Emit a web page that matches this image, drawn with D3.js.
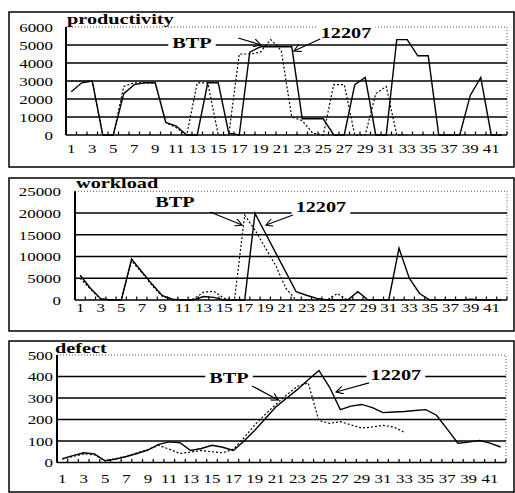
<!DOCTYPE html>
<html><head><meta charset="utf-8">
<script src="https://cdn.jsdelivr.net/npm/d3@7"></script>
<style>body{margin:0;background:#fff}svg{display:block}</style>
</head><body>
<svg id="c" width="515" height="493"></svg>
<script>
// ---------- DATA ----------
const categories = [1,2,3,4,5,6,7,8,9,10,11,12,13,14,15,16,17,18,19,20,21,22,23,24,25,26,27,28,29,30,31,32,33,34,35,36,37,38,39,40,41,42];
const xTickLabels = [1,3,5,7,9,11,13,15,17,19,21,23,25,27,29,31,33,35,37,39,41];

const productivityTicks = [0,1000,2000,3000,4000,5000,6000];
const productivity12207 = [2400,2900,3000,0,0,2300,2800,2900,2900,700,500,0,0,2900,2900,100,0,4600,4900,4900,4900,4900,900,900,900,0,0,2800,3200,0,0,5300,5300,4400,4400,0,0,0,2200,3200,0,0];
const productivityBTP   = [3000,3000,3000,0,0,2700,2900,2900,2900,700,400,0,2900,2900,0,0,4500,4500,4600,5300,4700,1000,800,100,0,2800,2800,0,0,2300,2700,0,0];

const workloadTicks = [0,5000,10000,15000,20000,25000];
const workload12207 = [5700,2700,300,0,0,9400,6500,3600,1000,200,0,0,800,600,0,0,0,19900,15400,10900,6400,1900,1100,380,0,0,0,1900,0,0,0,11900,5000,1500,0,0,0,0,200,0,0,0];
const workloadBTP   = [5000,2500,200,0,0,9000,6300,3300,800,0,0,200,1800,2000,400,0,19500,16100,12000,8000,2700,0,0,0,0,1500,0,0,0,0,0,0,0];

const defectTicks = [0,100,200,300,400,500];
const defect12207 = [18,32,45,40,8,16,28,42,58,84,96,92,56,65,80,71,56,100,150,205,260,300,340,385,428,350,246,262,270,255,232,235,237,242,246,220,155,90,95,103,90,72];
const defectBTP   = [16,28,40,36,8,18,30,45,60,80,62,42,48,56,50,45,62,115,175,225,272,315,355,370,195,182,190,175,160,165,173,165,140];

// ---------- LAYOUT ----------
const panels = [
  {title:"productivity", ticks:productivityTicks, s12207:productivity12207, sBTP:productivityBTP,
   frame:[9,12,505,155], left:66, right:507, top:27, bottom:135, yLabelX:53, xLabelY:153, titleX:67, titleY:24,
   ann:[{t:"BTP", c:12.5, v:5111, a:[16.9,5390,19.07,5000]},
        {t:"12207", c:27.17, v:5667, a:[24.7,5333,22.2,4667]}]},
  {title:"workload", ticks:workloadTicks, s12207:workload12207, sBTP:workloadBTP,
   frame:[9,178,505,153], left:75, right:507, top:191.25, bottom:300, yLabelX:61, xLabelY:312, titleX:76, titleY:188,
   ann:[{t:"BTP", c:10.22, v:22529, a:[13.63,20230,16.74,17241]},
        {t:"12207", c:24.41, v:21379, a:[21.69,19540,19.07,17241]}]},
  {title:"defect", ticks:defectTicks, s12207:defect12207, sBTP:defectBTP,
   frame:[9,341,505,151], left:57, right:506, top:355, bottom:462.5, yLabelX:53, xLabelY:483, titleX:55, titleY:353,
   ann:[{t:"BTP", c:16.59, v:393, a:[18.74,356,21.2,291]},
        {t:"12207", c:32.2, v:407, a:[29.69,370,26.6,328]}]}
];

const FONT = "'Liberation Serif','Times New Roman',serif";
const svg = d3.select("#c");

svg.append("defs").append("marker")
  .attr("id","arr").attr("viewBox","0 0 10 10").attr("refX",9).attr("refY",5)
  .attr("markerWidth",8).attr("markerHeight",8).attr("markerUnits","userSpaceOnUse").attr("orient","auto")
  .append("path").attr("d","M0,0 L9,5 L0,10").attr("fill","none").attr("stroke","#000").attr("stroke-width",1.4);

function stretchText(sel, sx){
  sel.each(function(){
    const t = d3.select(this);
    const x = +t.attr("data-x"), y = +t.attr("data-y");
    t.attr("transform", `translate(${x},${y}) scale(${sx},1)`);
  });
}

panels.forEach(p => {
  const g = svg.append("g");
  g.append("rect").attr("x",p.frame[0]).attr("y",p.frame[1]).attr("width",p.frame[2]).attr("height",p.frame[3])
    .attr("fill","none").attr("stroke","#000").attr("stroke-width",1.5);

  const x = d3.scaleBand().domain(categories).range([p.left,p.right]);
  const xc = c => x(c) + x.bandwidth()/2;
  const xf = d3.scaleLinear().domain([categories[0], categories[categories.length-1]])
               .range([xc(categories[0]), xc(categories[categories.length-1])]);
  const ymax = p.ticks[p.ticks.length-1];
  const y = d3.scaleLinear().domain([0,ymax]).range([p.bottom,p.top]);

  // plot area dotted top/right
  g.append("path").attr("d",`M${p.left},${p.top}H${p.right}V${p.bottom}`)
    .attr("fill","none").attr("stroke","#555").attr("stroke-width",1).attr("stroke-dasharray","1,2");

  // gridlines
  g.selectAll(".grid").data(p.ticks.filter(t=>t>0 && t<ymax)).join("line")
    .attr("x1",p.left).attr("x2",p.right).attr("y1",d=>y(d)).attr("y2",d=>y(d))
    .attr("stroke","#000").attr("stroke-width",1.6);

  // y axis labels
  const ya = g.append("g").attr("transform",`translate(${p.yLabelX},0)`)
    .call(d3.axisLeft(y).tickValues(p.ticks).tickSize(0).tickPadding(0).tickFormat(d3.format("d")));
  ya.select(".domain").remove();
  ya.selectAll("text").attr("x",null).attr("dy",null)
    .attr("font-family",FONT).attr("font-size",13).attr("fill","#000")
    .attr("text-anchor","end").attr("dominant-baseline","central")
    .attr("transform","scale(1.3,1)");

  // x axis labels
  const xa = g.append("g").attr("transform",`translate(0,${p.xLabelY})`)
    .call(d3.axisBottom(x).tickValues(xTickLabels).tickSize(0).tickPadding(0));
  xa.select(".domain").remove();
  xa.selectAll("text").attr("y",null).attr("dy",null)
    .attr("font-family",FONT).attr("font-size",13).attr("fill","#000")
    .attr("text-anchor","middle").attr("transform","scale(1.3,1)");

  // axis lines
  g.append("line").attr("x1",p.left).attr("x2",p.right).attr("y1",p.bottom).attr("y2",p.bottom)
    .attr("stroke","#000").attr("stroke-width",1.6);
  g.append("line").attr("x1",p.left).attr("x2",p.left).attr("y1",p.top).attr("y2",p.bottom)
    .attr("stroke","#000").attr("stroke-width",2);
  // small ticks on x axis at category boundaries
  const bounds = categories.map(c=>x(c)).concat([p.right]);
  g.selectAll(".xt").data(bounds).join("line")
    .attr("x1",d=>d).attr("x2",d=>d).attr("y1",p.bottom).attr("y2",p.bottom-3.5)
    .attr("stroke","#000").attr("stroke-width",1.2);

  // series
  const line = d3.line().defined(d=>d!=null).x((d,i)=>xc(categories[i])).y(d=>y(d));
  g.append("path").datum(p.sBTP).attr("d",line).attr("fill","none")
    .attr("stroke","#000").attr("stroke-width",1.2).attr("stroke-dasharray","2,2");
  g.append("path").datum(p.s12207).attr("d",line).attr("fill","none")
    .attr("stroke","#000").attr("stroke-width",1.4);

  // title
  g.append("text").attr("font-family",FONT).attr("font-weight","bold").attr("font-size",14)
    .attr("transform",`translate(${p.titleX},${p.titleY}) scale(1.45,1)`).text(p.title);

  // annotations
  p.ann.forEach(a => {
    const tx = xf(a.c), ty = y(a.v);
    const bg = g.append("rect").attr("fill","#fff");
    const t = g.append("text").attr("font-family",FONT).attr("font-weight","bold").attr("font-size",15)
      .attr("text-anchor","middle").attr("dominant-baseline","central")
      .attr("transform",`translate(${tx},${ty}) scale(1.35,1)`).text(a.t);
    const bb = t.node().getBBox();
    const w = bb.width*1.35 + 8, h = bb.height;
    bg.attr("x",tx-w/2).attr("y",ty-h/2).attr("width",w).attr("height",h);
    g.append("line").attr("x1",xf(a.a[0])).attr("y1",y(a.a[1])).attr("x2",xf(a.a[2])).attr("y2",y(a.a[3]))
      .attr("stroke","#000").attr("stroke-width",1.2).attr("marker-end","url(#arr)");
  });
});
</script>
</body></html>
